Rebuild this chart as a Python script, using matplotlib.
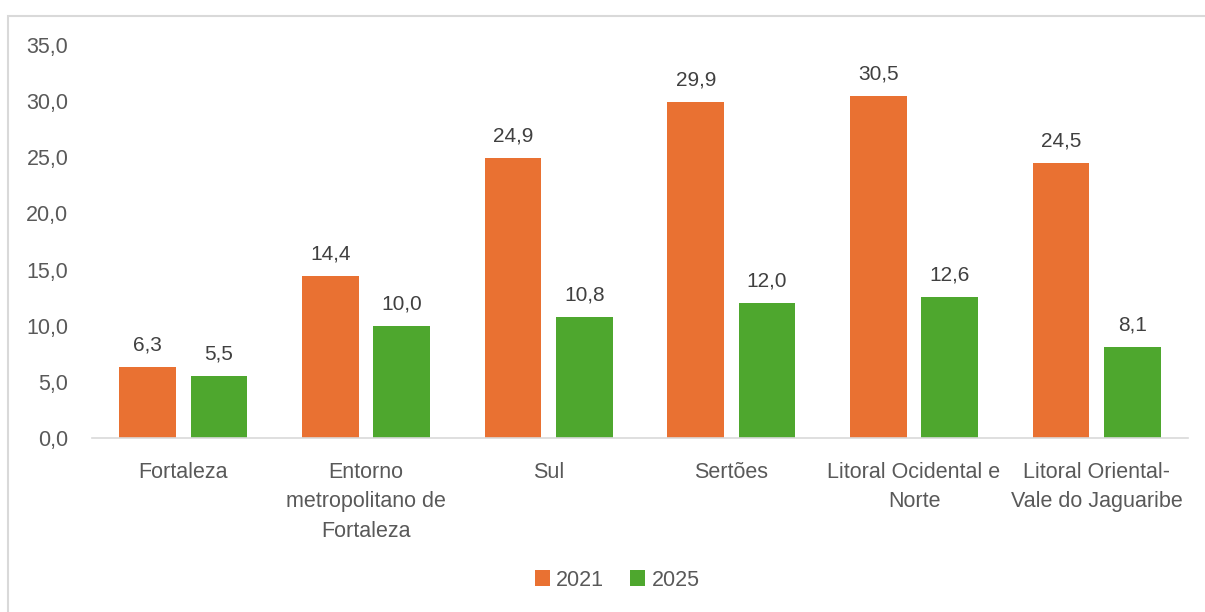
import matplotlib
matplotlib.use("Agg")
import matplotlib.pyplot as plt
import numpy as np
from matplotlib.patches import Rectangle

categories = [
    "Fortaleza",
    "Entorno\nmetropolitano de\nFortaleza",
    "Sul",
    "Sertões",
    "Litoral Ocidental e\nNorte",
    "Litoral Oriental-\nVale do Jaguaribe",
]
series_names = ["2021", "2025"]
values_2021 = [6.3, 14.4, 24.9, 29.9, 30.5, 24.5]
values_2025 = [5.5, 10.0, 10.8, 12.0, 12.6, 8.1]
y_ticks = [0, 5, 10, 15, 20, 25, 30, 35]

ORANGE = "#E97132"
GREEN = "#4EA72E"
TEXT = "#595959"
LABEL = "#404040"

plt.rcParams["font.family"] = ["Liberation Sans", "DejaVu Sans"]


def fmt(v):
    return f"{v:.1f}".replace(".", ",")


fig = plt.figure(figsize=(12.05, 6.12), dpi=100)
# chart border
fig.patches.append(Rectangle((8 / 1205, -0.1), 1.2, 0.1 + 1 - 16 / 612,
                             transform=fig.transFigure, fill=False,
                             edgecolor="#D9D9D9", linewidth=1.5))

ax = fig.add_axes([92 / 1205, 1 - 438 / 612, 1096 / 1205, 393 / 612])

x = np.arange(len(categories))
w = 0.31
off = w / 2 + 0.04
b1 = ax.bar(x - off, values_2021, w, color=ORANGE, label=series_names[0])
b2 = ax.bar(x + off, values_2025, w, color=GREEN, label=series_names[1])

for bars in (b1, b2):
    for rect in bars:
        v = rect.get_height()
        ax.annotate(fmt(v), (rect.get_x() + rect.get_width() / 2, v),
                    xytext=(0, 9), textcoords="offset points",
                    ha="center", va="bottom", fontsize=15, color=LABEL)

ax.set_xlim(-0.5, len(categories) - 0.5)
ax.set_ylim(0, 35)
ax.set_yticks(y_ticks)
ax.set_yticklabels([fmt(t) for t in y_ticks])
ax.set_xticks(x)
ax.set_xticklabels(categories, linespacing=1.55)
ax.tick_params(axis="y", length=0, pad=17, labelsize=15.5, labelcolor=TEXT)
ax.tick_params(axis="x", length=0, pad=17, labelsize=15.5, labelcolor=TEXT)

for s in ("top", "right", "left"):
    ax.spines[s].set_visible(False)
ax.spines["bottom"].set_color("#D9D9D9")
ax.spines["bottom"].set_linewidth(1.2)

fig.legend(loc="center", bbox_to_anchor=(617 / 1205, 1 - 580 / 612), ncol=2,
           frameon=False, fontsize=15.5, handlelength=0.7, handleheight=0.7,
           handletextpad=0.3, columnspacing=1.2, labelcolor=TEXT)

fig.savefig("out.png", dpi=100)
